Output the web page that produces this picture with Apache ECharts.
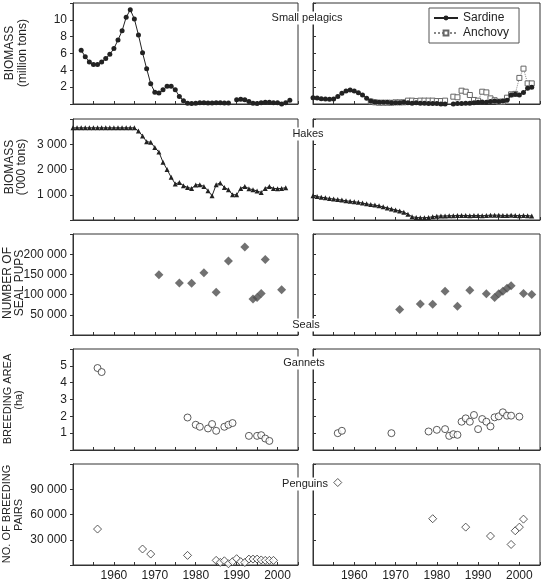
<!DOCTYPE html>
<html lang="en">
<head>
<meta charset="UTF-8">
<title>Benguela</title>
<script src="https://cdn.jsdelivr.net/npm/echarts@6/dist/echarts.min.js"></script>
<style>html,body{margin:0;padding:0;background:#fff}</style>
</head>
<body>
<div id="picture" style="width:544px;height:588px"></div>
<script>
// small pelagics (million tons)
var sardineLeftStart = 1952;
var sardineLeft = [6.4, 5.6, 5.0, 4.7, 4.7, 5.0, 5.4, 5.9, 6.6, 7.6,
    8.7, 10.3, 11.2, 10.1, 8.2, 6.1, 4.2, 2.4, 1.4, 1.3,
    1.7, 2.1, 2.1, 1.7, 0.9, 0.4, 0.1, 0.05, 0.1, 0.15,
    0.15, 0.12, 0.12, 0.15, 0.15, 0.12, 0.12, null, 0.5, 0.55,
    0.5, 0.3, 0.1, 0.05, 0.15, 0.2, 0.2, 0.15, 0.15, 0.0,
    0.15, 0.45];
var sardineRightStart = 1950;
var sardineRight = [0.75, 0.7, 0.63, 0.6, 0.55, 0.6, 0.9, 1.27, 1.54, 1.66,
    1.54, 1.35, 1.07, 0.67, 0.36, 0.25, 0.2, 0.2, 0.2, 0.15,
    0.15, 0.15, 0.2, 0.15, 0.1, 0.15, 0.1, 0.1, 0.05, 0.05,
    0.05, 0.0, 0.0, null, 0.0, 0.05, 0.05, 0.1, 0.1, 0.15,
    0.2, 0.25, 0.2, 0.3, 0.35, 0.3, 0.35, 0.45, 1.07, 1.15,
    1.07, 1.38, 1.86, 2.0];
var anchovyRightStart = 1964;
var anchovyRight = [0.3, 0.2, 0.15, 0.15, 0.15, 0.15, 0.2, 0.2, 0.2, 0.4,
    0.4, 0.35, 0.4, 0.4, 0.4, 0.4, 0.35, 0.35, 0.4, null,
    0.87, 0.8, 1.58, 1.46, 1.07, 0.48, 0.4, 1.46, 1.38, 0.67,
    0.45, 0.28, 0.28, 0.75, 1.15, 1.2, 3.1, 4.2, 2.45, 2.45];

// hakes ('000 tons)
var hakeLeftStart = 1950;
var hakeLeft = [3650, 3650, 3650, 3650, 3650, 3650, 3650, 3650, 3650, 3650,
    3650, 3650, 3650, 3650, 3650, 3650, 3520, 3330, 3100, 3080,
    2870, 2690, 2290, 2000, 1690, 1430, 1490, 1360, 1290, 1250,
    1390, 1400, 1330, 1160, 960, 1400, 1470, 1290, 1200, 1000,
    1000, 1250, 1330, 1240, 1200, 1150, 1090, 1250, 1330, 1250,
    1240, 1250, 1280];
var hakeRightStart = 1950;
var hakeRight = [960, 930, 900, 880, 850, 830, 810, 790, 760, 740,
    720, 700, 670, 640, 610, 590, 560, 520, 480, 440,
    400, 360, 310, 230, 130, 100, 90, 90, 100, 130,
    150, 160, 160, 170, 170, 180, 180, 180, 170, 180,
    180, 170, 180, 190, 190, 190, 180, 180, 190, 180,
    170, 180, 170, 160];

// seal pups
var sealLeftYears = [1971, 1976, 1979, 1982, 1985, 1988, 1992, 1994, 1995, 1996, 1997, 2001];
var sealLeft = [149000, 129000, 128000, 154000, 106000, 183000, 218000, 89000, 93000, 103000, 187000, 112000];
var sealRightYears = [1971, 1976, 1979, 1982, 1985, 1988, 1992, 1994, 1995, 1996, 1997, 1998, 2001, 2003];
var sealRight = [63000, 77000, 76000, 108000, 71000, 111000, 102000, 93000, 102000, 108000, 116000, 122000, 103000, 100000];

// gannets breeding area (ha)
var gannetLeftYears = [1956, 1957, 1978, 1980, 1981, 1983, 1984, 1985, 1987, 1988, 1989, 1993, 1995, 1996, 1997, 1998];
var gannetLeft = [4.87, 4.63, 1.93, 1.5, 1.38, 1.28, 1.54, 1.14, 1.38, 1.5, 1.6, 0.84, 0.84, 0.88, 0.68, 0.54];
var gannetRightYears = [1956, 1957, 1969, 1978, 1980, 1982, 1983, 1984, 1985, 1986, 1987, 1988, 1989,
    1990, 1991, 1992, 1993, 1994, 1995, 1996, 1997, 1998, 2000];
var gannetRight = [1.0, 1.14, 1.0, 1.1, 1.2, 1.24, 0.84, 0.94, 0.9, 1.68, 1.88, 1.68, 2.08,
    1.24, 1.84, 1.68, 1.4, 1.94, 2.0, 2.24, 2.04, 2.04, 1.98];

// penguins breeding pairs
var penguinLeftYears = [1956, 1967, 1969, 1978, 1985, 1986, 1987, 1988, 1989, 1990, 1991, 1992,
    1993, 1994, 1995, 1996, 1997, 1998, 1999];
var penguinLeft = [42700, 19000, 13000, 11400, 5500, 3100, 5000, 1500, 4000, 7500, 4000, 3000,
    7000, 7000, 7000, 6000, 5500, 5500, 5500];
var penguinRightYears = [1956, 1979, 1987, 1993, 1998, 1999, 2000, 2001];
var penguinRight = [98000, 55000, 45000, 34400, 24400, 40700, 45000, 54500];

var yMax = [12, 4000, 250000, 6, 120000];
var yStep = [2, 1000, 50000, 1, 30000];
var rowTop = [3, 119, 234, 349, 464];
var FONT = '"Liberation Sans", Arial, sans-serif';
var INK = '#222';

function bySteps(start, vals) {
    var out = [];
    for (var i = 0; i < vals.length; i++) {
        out.push([start + i, vals[i] === null ? '-' : vals[i]]);
    }
    return out;
}
function byYears(years, vals) {
    var out = [];
    for (var i = 0; i < years.length; i++) {
        out.push([years[i], vals[i]]);
    }
    return out;
}
function spaced(v) {
    return String(v).replace(/\B(?=(\d{3})+(?!\d))/g, ' ');
}

var grids = [], xAxes = [], yAxes = [];
for (var r = 0; r < 5; r++) {
    for (var c = 0; c < 2; c++) {
        grids.push({
            left: c === 0 ? 73 : 313,
            width: c === 0 ? 225 : 227,
            top: rowTop[r],
            height: 101,
            show: true,
            borderColor: '#333',
            borderWidth: 1,
            backgroundColor: 'transparent'
        });
        var gi = r * 2 + c;
        xAxes.push({
            type: 'value',
            gridIndex: gi,
            min: 1950,
            max: 2005,
            interval: 5,
            splitLine: {show: false},
            axisLine: {show: true, lineStyle: {color: '#333', width: 1}},
            axisTick: {show: true, inside: true, length: 3, lineStyle: {color: '#333'}},
            axisLabel: {
                show: r === 4,
                margin: 5,
                fontSize: 12,
                fontFamily: FONT,
                color: INK,
                formatter: function (v) {
                    return (v % 10 === 0 && v > 1950 && v < 2005) ? String(v) : '';
                }
            }
        });
        yAxes.push({
            type: 'value',
            gridIndex: gi,
            min: 0,
            max: yMax[r],
            interval: yStep[r],
            splitLine: {show: false},
            axisLine: {show: true, lineStyle: {color: '#333', width: 1}},
            axisTick: {show: true, inside: c === 1, length: 3, lineStyle: {color: '#333'}},
            axisLabel: {
                show: c === 0,
                margin: 6,
                fontSize: 12,
                fontFamily: FONT,
                color: INK,
                formatter: (function (mx) {
                    return function (v) {
                        return (v === 0 || v === mx) ? '' : spaced(v);
                    };
                })(yMax[r])
            }
        });
    }
}

var dotStyle = {color: '#222'};
var openStyle = {color: '#fff', borderColor: '#333', borderWidth: 1};

var series = [
    {
        name: 'Sardine', type: 'line', xAxisIndex: 0, yAxisIndex: 0,
        data: bySteps(sardineLeftStart, sardineLeft),
        symbol: 'circle', symbolSize: 5, itemStyle: dotStyle,
        lineStyle: {color: '#222', width: 1}
    },
    {
        name: 'Sardine', type: 'line', xAxisIndex: 1, yAxisIndex: 1,
        data: bySteps(sardineRightStart, sardineRight),
        symbol: 'circle', symbolSize: 5, itemStyle: dotStyle,
        lineStyle: {color: '#222', width: 1}, z: 3
    },
    {
        name: 'Anchovy', type: 'line', xAxisIndex: 1, yAxisIndex: 1,
        data: bySteps(anchovyRightStart, anchovyRight),
        symbol: 'rect', symbolSize: 5,
        itemStyle: {color: '#fff', borderColor: '#666', borderWidth: 1},
        lineStyle: {color: '#888', width: 1, type: 'dotted'}, z: 2
    },
    {
        name: 'Hakes N', type: 'line', xAxisIndex: 2, yAxisIndex: 2,
        data: bySteps(hakeLeftStart, hakeLeft),
        symbol: 'triangle', symbolSize: 5, itemStyle: dotStyle,
        lineStyle: {color: '#222', width: 1}
    },
    {
        name: 'Hakes S', type: 'line', xAxisIndex: 3, yAxisIndex: 3,
        data: bySteps(hakeRightStart, hakeRight),
        symbol: 'triangle', symbolSize: 5, itemStyle: dotStyle,
        lineStyle: {color: '#222', width: 1}
    },
    {
        name: 'Seals N', type: 'scatter', xAxisIndex: 4, yAxisIndex: 4,
        data: byYears(sealLeftYears, sealLeft),
        symbol: 'diamond', symbolSize: 9, itemStyle: {color: '#4d4d4d'}
    },
    {
        name: 'Seals S', type: 'scatter', xAxisIndex: 5, yAxisIndex: 5,
        data: byYears(sealRightYears, sealRight),
        symbol: 'diamond', symbolSize: 9, itemStyle: {color: '#4d4d4d'}
    },
    {
        name: 'Gannets N', type: 'scatter', xAxisIndex: 6, yAxisIndex: 6,
        data: byYears(gannetLeftYears, gannetLeft),
        symbol: 'circle', symbolSize: 7, itemStyle: openStyle
    },
    {
        name: 'Gannets S', type: 'scatter', xAxisIndex: 7, yAxisIndex: 7,
        data: byYears(gannetRightYears, gannetRight),
        symbol: 'circle', symbolSize: 7, itemStyle: openStyle
    },
    {
        name: 'Penguins N', type: 'scatter', xAxisIndex: 8, yAxisIndex: 8,
        data: byYears(penguinLeftYears, penguinLeft),
        symbol: 'diamond', symbolSize: 8, itemStyle: openStyle
    },
    {
        name: 'Penguins S', type: 'scatter', xAxisIndex: 9, yAxisIndex: 9,
        data: byYears(penguinRightYears, penguinRight),
        symbol: 'diamond', symbolSize: 8, itemStyle: openStyle
    }
];

function vText(x, y, text, size) {
    return {
        type: 'text', x: x, y: y, rotation: Math.PI / 2, z: 100,
        style: {
            text: text, font: size + 'px ' + FONT, fill: INK,
            align: 'center', verticalAlign: 'middle',
            textAlign: 'center', textVerticalAlign: 'middle'
        }
    };
}
function panelLabel(x, y, text) {
    return {
        type: 'text', x: x, y: y, z: 100,
        style: {
            text: text, font: '11px ' + FONT, fill: INK,
            align: 'center', verticalAlign: 'middle',
            textAlign: 'center', textVerticalAlign: 'middle',
            backgroundColor: '#fff', padding: [1, 2]
        }
    };
}

var myChart = echarts.init(document.getElementById('picture'));
var option = {
    animation: false,
    backgroundColor: '#fff',
    grid: grids,
    xAxis: xAxes,
    yAxis: yAxes,
    legend: {
        data: ['Sardine', 'Anchovy'],
        orient: 'vertical',
        left: 429,
        top: 8,
        padding: [4, 10, 4, 4],
        itemGap: 3,
        itemWidth: 24,
        itemHeight: 6,
        borderColor: '#555',
        borderWidth: 1,
        backgroundColor: '#fff',
        textStyle: {fontSize: 12, fontFamily: FONT, color: INK}
    },
    graphic: [
        vText(10, 53, 'BIOMASS', 12),
        vText(23, 53, '(million tons)', 12),
        vText(10, 167, 'BIOMASS', 12),
        vText(22, 167, "('000 tons)", 12),
        vText(8, 283, 'NUMBER OF', 12),
        vText(20, 283, 'SEAL PUPS', 12),
        vText(8, 399, 'BREEDING AREA', 11),
        vText(19, 400, '(ha)', 11),
        vText(7, 514, 'NO. OF BREEDING', 11),
        vText(19, 515, 'PAIRS', 11),
        panelLabel(307, 18, 'Small pelagics'),
        panelLabel(308, 134, 'Hakes'),
        panelLabel(306, 325, 'Seals'),
        panelLabel(304, 363, 'Gannets'),
        panelLabel(305, 484, 'Penguins')
    ],
    series: series
};
myChart.setOption(option);
</script>
</body>
</html>
